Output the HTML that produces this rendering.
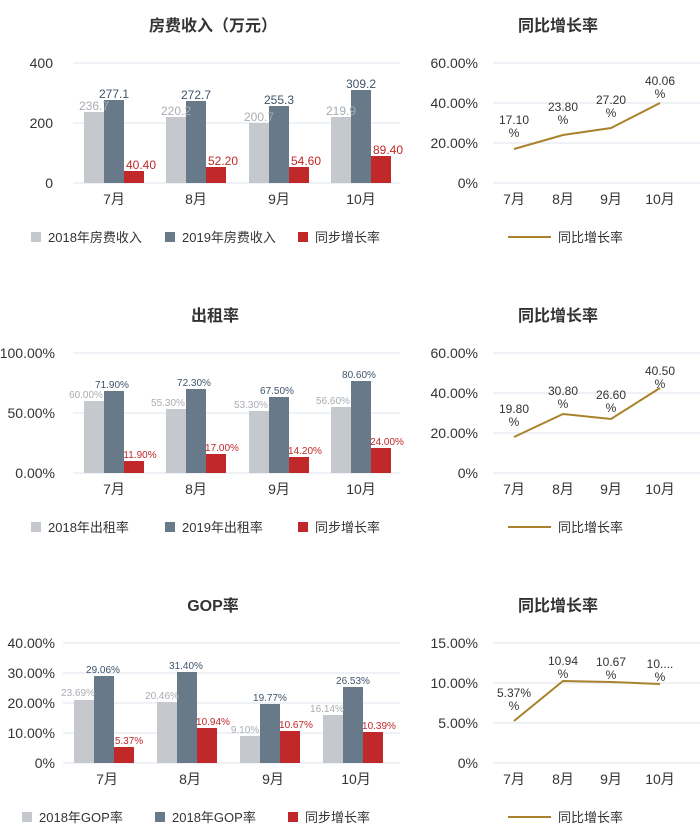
<!DOCTYPE html>
<html><head><meta charset="utf-8"><style>
body{margin:0;background:#fff}
svg{display:block;font-family:"Liberation Sans","Noto Sans CJK SC",sans-serif}
</style></head><body>
<svg width="700" height="840" viewBox="0 0 700 840" xmlns="http://www.w3.org/2000/svg">
<g fill="#333" font-size="14">
<!-- titles -->
<text x="213" y="31" text-anchor="middle" font-weight="bold" font-size="16">房费收入（万元）</text>
<text x="558" y="31" text-anchor="middle" font-weight="bold" font-size="16">同比增长率</text>
<text x="215" y="321" text-anchor="middle" font-weight="bold" font-size="16">出租率</text>
<text x="558" y="321" text-anchor="middle" font-weight="bold" font-size="16">同比增长率</text>
<text x="213" y="611" text-anchor="middle" font-weight="bold" font-size="16">GOP率</text>
<text x="558" y="611" text-anchor="middle" font-weight="bold" font-size="16">同比增长率</text>
</g>
<g stroke="#dde3ec" stroke-width="1">
<line x1="73" y1="63" x2="400" y2="63"/><line x1="73" y1="123" x2="400" y2="123"/><line x1="73" y1="183" x2="400" y2="183"/>
<line x1="493" y1="63" x2="700" y2="63"/><line x1="493" y1="103" x2="700" y2="103"/><line x1="493" y1="143" x2="700" y2="143"/><line x1="493" y1="183" x2="700" y2="183"/>
<line x1="73" y1="353" x2="400" y2="353"/><line x1="73" y1="413" x2="400" y2="413"/><line x1="73" y1="473" x2="400" y2="473"/>
<line x1="493" y1="353" x2="700" y2="353"/><line x1="493" y1="393" x2="700" y2="393"/><line x1="493" y1="433" x2="700" y2="433"/><line x1="493" y1="473" x2="700" y2="473"/>
<line x1="63" y1="643" x2="400" y2="643"/><line x1="63" y1="673" x2="400" y2="673"/><line x1="63" y1="703" x2="400" y2="703"/><line x1="63" y1="733" x2="400" y2="733"/><line x1="63" y1="763" x2="400" y2="763"/>
<line x1="493" y1="643" x2="700" y2="643"/><line x1="493" y1="683" x2="700" y2="683"/><line x1="493" y1="723" x2="700" y2="723"/><line x1="493" y1="763" x2="700" y2="763"/>
</g>
<g fill="#333" font-size="14" text-anchor="end">
<text x="53" y="68">400</text><text x="53" y="128">200</text><text x="53" y="188">0</text>
<text x="478" y="68">60.00%</text><text x="478" y="108">40.00%</text><text x="478" y="148">20.00%</text><text x="478" y="188">0%</text>
<text x="55" y="358">100.00%</text><text x="55" y="418">50.00%</text><text x="55" y="478">0.00%</text>
<text x="478" y="358">60.00%</text><text x="478" y="398">40.00%</text><text x="478" y="438">20.00%</text><text x="478" y="478">0%</text>
<text x="55" y="648">40.00%</text><text x="55" y="678">30.00%</text><text x="55" y="708">20.00%</text><text x="55" y="738">10.00%</text><text x="55" y="768">0%</text>
<text x="478" y="648">15.00%</text><text x="478" y="688">10.00%</text><text x="478" y="728">5.00%</text><text x="478" y="768">0%</text>
</g>
<g fill="#333" font-size="14" text-anchor="middle">
<text x="114" y="204">7月</text><text x="196" y="204">8月</text><text x="279" y="204">9月</text><text x="361" y="204">10月</text>
<text x="514" y="204">7月</text><text x="563" y="204">8月</text><text x="611" y="204">9月</text><text x="660" y="204">10月</text>
<text x="114" y="494">7月</text><text x="196" y="494">8月</text><text x="279" y="494">9月</text><text x="361" y="494">10月</text>
<text x="514" y="494">7月</text><text x="563" y="494">8月</text><text x="611" y="494">9月</text><text x="660" y="494">10月</text>
<text x="107" y="784">7月</text><text x="190" y="784">8月</text><text x="273" y="784">9月</text><text x="356" y="784">10月</text>
<text x="514" y="784">7月</text><text x="563" y="784">8月</text><text x="611" y="784">9月</text><text x="660" y="784">10月</text>
</g>
<!-- chart1 bars -->
<g>
<rect x="84" y="112" width="20" height="71" fill="#c5c8cc"/><rect x="104" y="100" width="20" height="83" fill="#687a89"/><rect x="124" y="171" width="20" height="12" fill="#c0282a"/>
<rect x="166" y="117" width="20" height="66" fill="#c5c8cc"/><rect x="186" y="101" width="20" height="82" fill="#687a89"/><rect x="206" y="167" width="20" height="16" fill="#c0282a"/>
<rect x="249" y="123" width="20" height="60" fill="#c5c8cc"/><rect x="269" y="106" width="20" height="77" fill="#687a89"/><rect x="289" y="167" width="20" height="16" fill="#c0282a"/>
<rect x="331" y="117" width="20" height="66" fill="#c5c8cc"/><rect x="351" y="90" width="20" height="93" fill="#687a89"/><rect x="371" y="156" width="20" height="27" fill="#c0282a"/>
</g>
<g font-size="12" text-anchor="middle">
<g fill="#a9acb2"><text x="94" y="110">236.7</text><text x="176" y="115">220.2</text><text x="259" y="121">200.7</text><text x="341" y="115">219.9</text></g>
<g fill="#3f546b"><text x="114" y="98">277.1</text><text x="196" y="99">272.7</text><text x="279" y="104">255.3</text><text x="361" y="88">309.2</text></g>
<g fill="#c0282a"><text x="141" y="169">40.40</text><text x="223" y="165">52.20</text><text x="306" y="165">54.60</text><text x="388" y="154">89.40</text></g>
</g>
<!-- chart3 bars (mid-left) -->
<g>
<rect x="84" y="401" width="20" height="72" fill="#c5c8cc"/><rect x="104" y="391" width="20" height="82" fill="#687a89"/><rect x="124" y="461" width="20" height="12" fill="#c0282a"/>
<rect x="166" y="409" width="20" height="64" fill="#c5c8cc"/><rect x="186" y="389" width="20" height="84" fill="#687a89"/><rect x="206" y="454" width="20" height="19" fill="#c0282a"/>
<rect x="249" y="411" width="20" height="62" fill="#c5c8cc"/><rect x="269" y="397" width="20" height="76" fill="#687a89"/><rect x="289" y="457" width="20" height="16" fill="#c0282a"/>
<rect x="331" y="407" width="20" height="66" fill="#c5c8cc"/><rect x="351" y="381" width="20" height="92" fill="#687a89"/><rect x="371" y="448" width="20" height="25" fill="#c0282a"/>
</g>
<g font-size="10" text-anchor="middle">
<g fill="#a9acb2"><text x="86" y="398">60.00%</text><text x="168" y="406">55.30%</text><text x="251" y="408">53.30%</text><text x="333" y="404">56.60%</text></g>
<g fill="#3f546b"><text x="112" y="388">71.90%</text><text x="194" y="386">72.30%</text><text x="277" y="394">67.50%</text><text x="359" y="378">80.60%</text></g>
<g fill="#c0282a"><text x="140" y="458">11.90%</text><text x="222" y="451">17.00%</text><text x="305" y="454">14.20%</text><text x="387" y="445">24.00%</text></g>
</g>
<!-- chart5 bars (bottom-left) -->
<g>
<rect x="74" y="700" width="20" height="63" fill="#c5c8cc"/><rect x="94" y="676" width="20" height="87" fill="#687a89"/><rect x="114" y="747" width="20" height="16" fill="#c0282a"/>
<rect x="157" y="702" width="20" height="61" fill="#c5c8cc"/><rect x="177" y="672" width="20" height="91" fill="#687a89"/><rect x="197" y="728" width="20" height="35" fill="#c0282a"/>
<rect x="240" y="736" width="20" height="27" fill="#c5c8cc"/><rect x="260" y="704" width="20" height="59" fill="#687a89"/><rect x="280" y="731" width="20" height="32" fill="#c0282a"/>
<rect x="323" y="715" width="20" height="48" fill="#c5c8cc"/><rect x="343" y="687" width="20" height="76" fill="#687a89"/><rect x="363" y="732" width="20" height="31" fill="#c0282a"/>
</g>
<g font-size="10" text-anchor="middle">
<g fill="#a9acb2"><text x="78" y="696">23.69%</text><text x="162" y="699">20.46%</text><text x="245" y="733">9.10%</text><text x="327" y="712">16.14%</text></g>
<g fill="#3f546b"><text x="103" y="673">29.06%</text><text x="186" y="669">31.40%</text><text x="270" y="701">19.77%</text><text x="353" y="684">26.53%</text></g>
<g fill="#c0282a"><text x="129" y="744">5.37%</text><text x="213" y="725">10.94%</text><text x="296" y="728">10.67%</text><text x="379" y="729">10.39%</text></g>
</g>
<!-- lines -->
<g fill="none" stroke="#a9822c" stroke-width="2">
<polyline points="514,149 563,135 611,128 660,103"/>
<polyline points="514,437 563,414 611,419 660,388"/>
<polyline points="514,721 563,681 611,682 660,684"/>
</g>
<g fill="#333" font-size="12" text-anchor="middle">
<text x="514" y="124">17.10</text><text x="514" y="137">%</text>
<text x="563" y="111">23.80</text><text x="563" y="124">%</text>
<text x="611" y="104">27.20</text><text x="611" y="117">%</text>
<text x="660" y="85">40.06</text><text x="660" y="98">%</text>
<text x="514" y="413">19.80</text><text x="514" y="426">%</text>
<text x="563" y="395">30.80</text><text x="563" y="408">%</text>
<text x="611" y="399">26.60</text><text x="611" y="412">%</text>
<text x="660" y="375">40.50</text><text x="660" y="388">%</text>
<text x="514" y="697">5.37%</text><text x="514" y="710">%</text>
<text x="563" y="665">10.94</text><text x="563" y="678">%</text>
<text x="611" y="666">10.67</text><text x="611" y="679">%</text>
<text x="660" y="668">10....</text><text x="660" y="681">%</text>
</g>
<!-- legends -->
<g font-size="13" fill="#333">
<rect x="31" y="232" width="10" height="10" fill="#c5c8cc"/><text x="48" y="242">2018年房费收入</text>
<rect x="165" y="232" width="10" height="10" fill="#687a89"/><text x="182" y="242">2019年房费收入</text>
<rect x="298" y="232" width="10" height="10" fill="#c0282a"/><text x="315" y="242">同步增长率</text>
<rect x="31" y="522" width="10" height="10" fill="#c5c8cc"/><text x="48" y="532">2018年出租率</text>
<rect x="165" y="522" width="10" height="10" fill="#687a89"/><text x="182" y="532">2019年出租率</text>
<rect x="298" y="522" width="10" height="10" fill="#c0282a"/><text x="315" y="532">同步增长率</text>
<rect x="22" y="812" width="10" height="10" fill="#c5c8cc"/><text x="39" y="822">2018年GOP率</text>
<rect x="155" y="812" width="10" height="10" fill="#687a89"/><text x="172" y="822">2018年GOP率</text>
<rect x="288" y="812" width="10" height="10" fill="#c0282a"/><text x="305" y="822">同步增长率</text>
<line x1="508" y1="237" x2="551" y2="237" stroke="#a9822c" stroke-width="2"/><text x="558" y="242">同比增长率</text>
<line x1="508" y1="527" x2="551" y2="527" stroke="#a9822c" stroke-width="2"/><text x="558" y="532">同比增长率</text>
<line x1="508" y1="817" x2="551" y2="817" stroke="#a9822c" stroke-width="2"/><text x="558" y="822">同比增长率</text>
</g>
</svg>
</body></html>
